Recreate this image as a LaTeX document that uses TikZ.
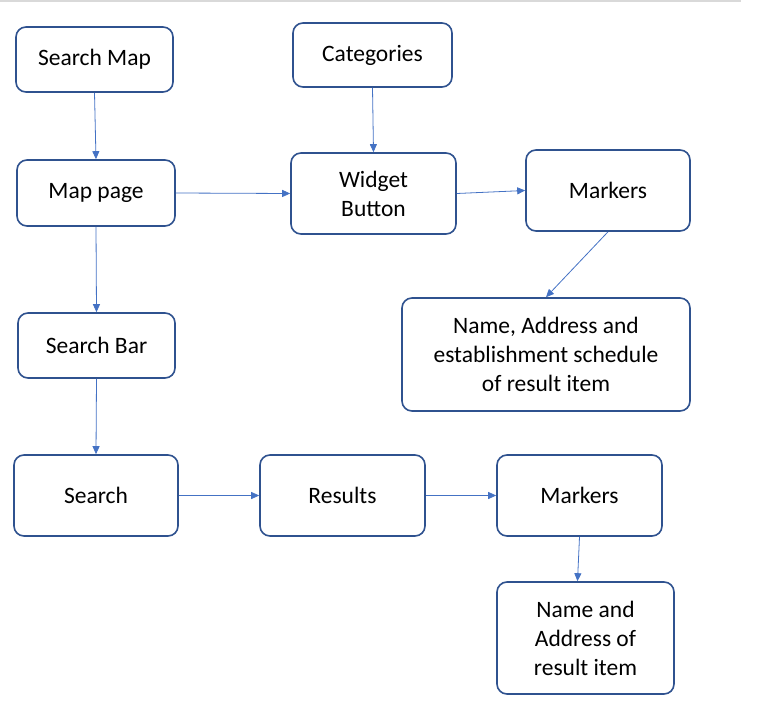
\documentclass[tikz,border=0pt]{standalone}
\usepackage{fontspec}
\setmainfont{Carlito}
\usepackage{tikz}
\usetikzlibrary{arrows.meta,positioning}

\definecolor{boxline}{HTML}{2F528F}
\definecolor{arrowline}{HTML}{4472C4}

\begin{document}
\begin{tikzpicture}[x=1pt, y=-1pt]
			\tikzstyle{Box}		= [draw=boxline, line width=1.6pt, rounded corners=10pt, fill=white, align=center, inner sep=0pt, font=\fontsize{23.5}{29}\selectfont]
			\tikzstyle{Flow}	= [draw=arrowline, line width=0.8pt, -{Triangle[length=8pt, width=7pt]}]
			\tikzstyle{Rule}	= [draw={rgb,255:red,217;green,217;blue,217}, line width=2pt]

			\useasboundingbox (0,0) rectangle (765,719);
			\draw [Rule] (0,1.5) -- (741,1.5);

			% boxes: name/x/y/width/height/text
			\foreach \n/\x/\y/\w/\h/\t in {
					smap/94.5/59.5/157/65/{Search Map},
					cat/372.5/55/159/64/{Categories},
					mpage/96/193/158/66/{Map page},
					wbtn/373.5/193.5/165/81/{Widget\\Button},
					mka/608/190.5/164/81/{Markers},
					infa/546/354.5/288/113/{Name, Address and\\establishment schedule\\of result item},
					sbar/96.5/345.5/157/65/{Search Bar},
					srch/96/495.5/164/81/{Search},
					res/342.5/495.5/165/81/{Results},
					mkb/579.5/495.5/165/81/{Markers},
					infb/585.5/638/177/112/{Name and\\Address of\\result item}}
				\node (\n) at (\x, \y) [Box, minimum width=\w pt, minimum height=\h pt] {\t};

			\foreach \a/\b in {smap/mpage, cat/wbtn, mpage/sbar, sbar/srch, mka/infa}
				\draw [Flow] (\a.south) to (\b.north);
			\draw [Flow] (mkb.south) to ([xshift=-8pt]infb.north);
			\foreach \a/\b in {mpage/wbtn, wbtn/mka, srch/res, res/mkb}
				\draw [Flow] (\a.east) to (\b.west);
		\end{tikzpicture}
\end{document}
